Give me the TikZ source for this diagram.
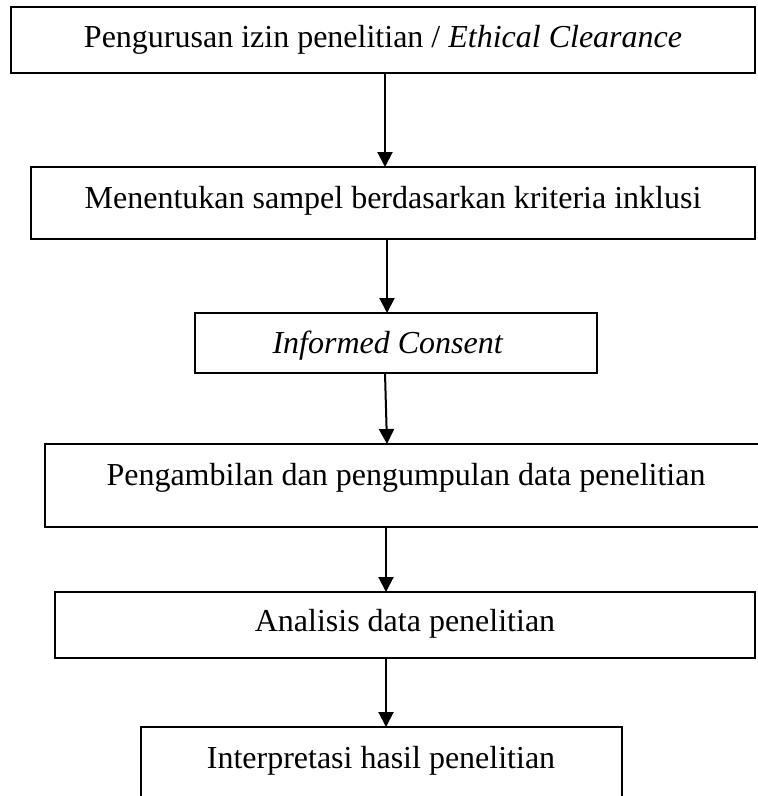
\documentclass[tikz,border=0pt]{standalone}
\usepackage{fontspec}
\setmainfont{Liberation Serif}
\usetikzlibrary{arrows.meta}
\begin{document}
\begin{tikzpicture}[x=1pt,y=-1pt,
  box/.style={draw=black, line width=2pt, inner sep=0pt, outer sep=0pt, rectangle},
  lbl/.style={anchor=base, inner sep=0pt, font=\fontsize{32}{38}\selectfont},
  arr/.style={line width=2pt, -{Triangle[length=15pt,width=15pt]}}]
\useasboundingbox (0,0) rectangle (758,796);
\fill[white] (0,0) rectangle (758,796);
\clip (0,0) rectangle (758,796);
% x positions of the connectors
\coordinate (xa) at (385,0);
\coordinate (xb) at (387,0);
\coordinate (xc) at (386,0);
% boxes
\node[box, minimum width=744pt, minimum height=66pt] (b1) at (383,40) {};
\node[lbl] (t1) at (383,47) {Pengurusan izin penelitian / \textit{Ethical Clearance}};
\node[box, minimum width=724pt, minimum height=72pt] (b2) at (393,203) {};
\node[lbl] (t2) at (393,208) {Menentukan sampel berdasarkan kriteria inklusi};
\node[box, minimum width=402pt, minimum height=60pt] (b3) at (396,343) {};
\node[lbl] (t3) at (388,353) {\textit{Informed Consent}};
\node[box, minimum width=722pt, minimum height=83pt] (b4) at (406,485.5) {};
\node[lbl] (t4) at (406,485) {Pengambilan dan pengumpulan data penelitian};
\node[box, minimum width=700pt, minimum height=66pt] (b5) at (405,625) {};
\node[lbl] (t5) at (405,631) {Analisis data penelitian};
\node[box, minimum width=481pt, minimum height=102pt] (b6) at (381.5,778) {};
\node[lbl] (t6) at (381,768) {Interpretasi hasil penelitian};
% connectors
\draw[arr] (b1.south -| xa) -- (b2.north -| xa);
\draw[arr] (b2.south -| xb) -- (b3.north -| xb);
\draw[arr] (b3.south -| xa) -- (b4.north -| xb);
\draw[arr] (b4.south -| xc) -- (b5.north -| xc);
\draw[arr] (b5.south -| xc) -- (b6.north -| xc);
\end{tikzpicture}
\end{document}
